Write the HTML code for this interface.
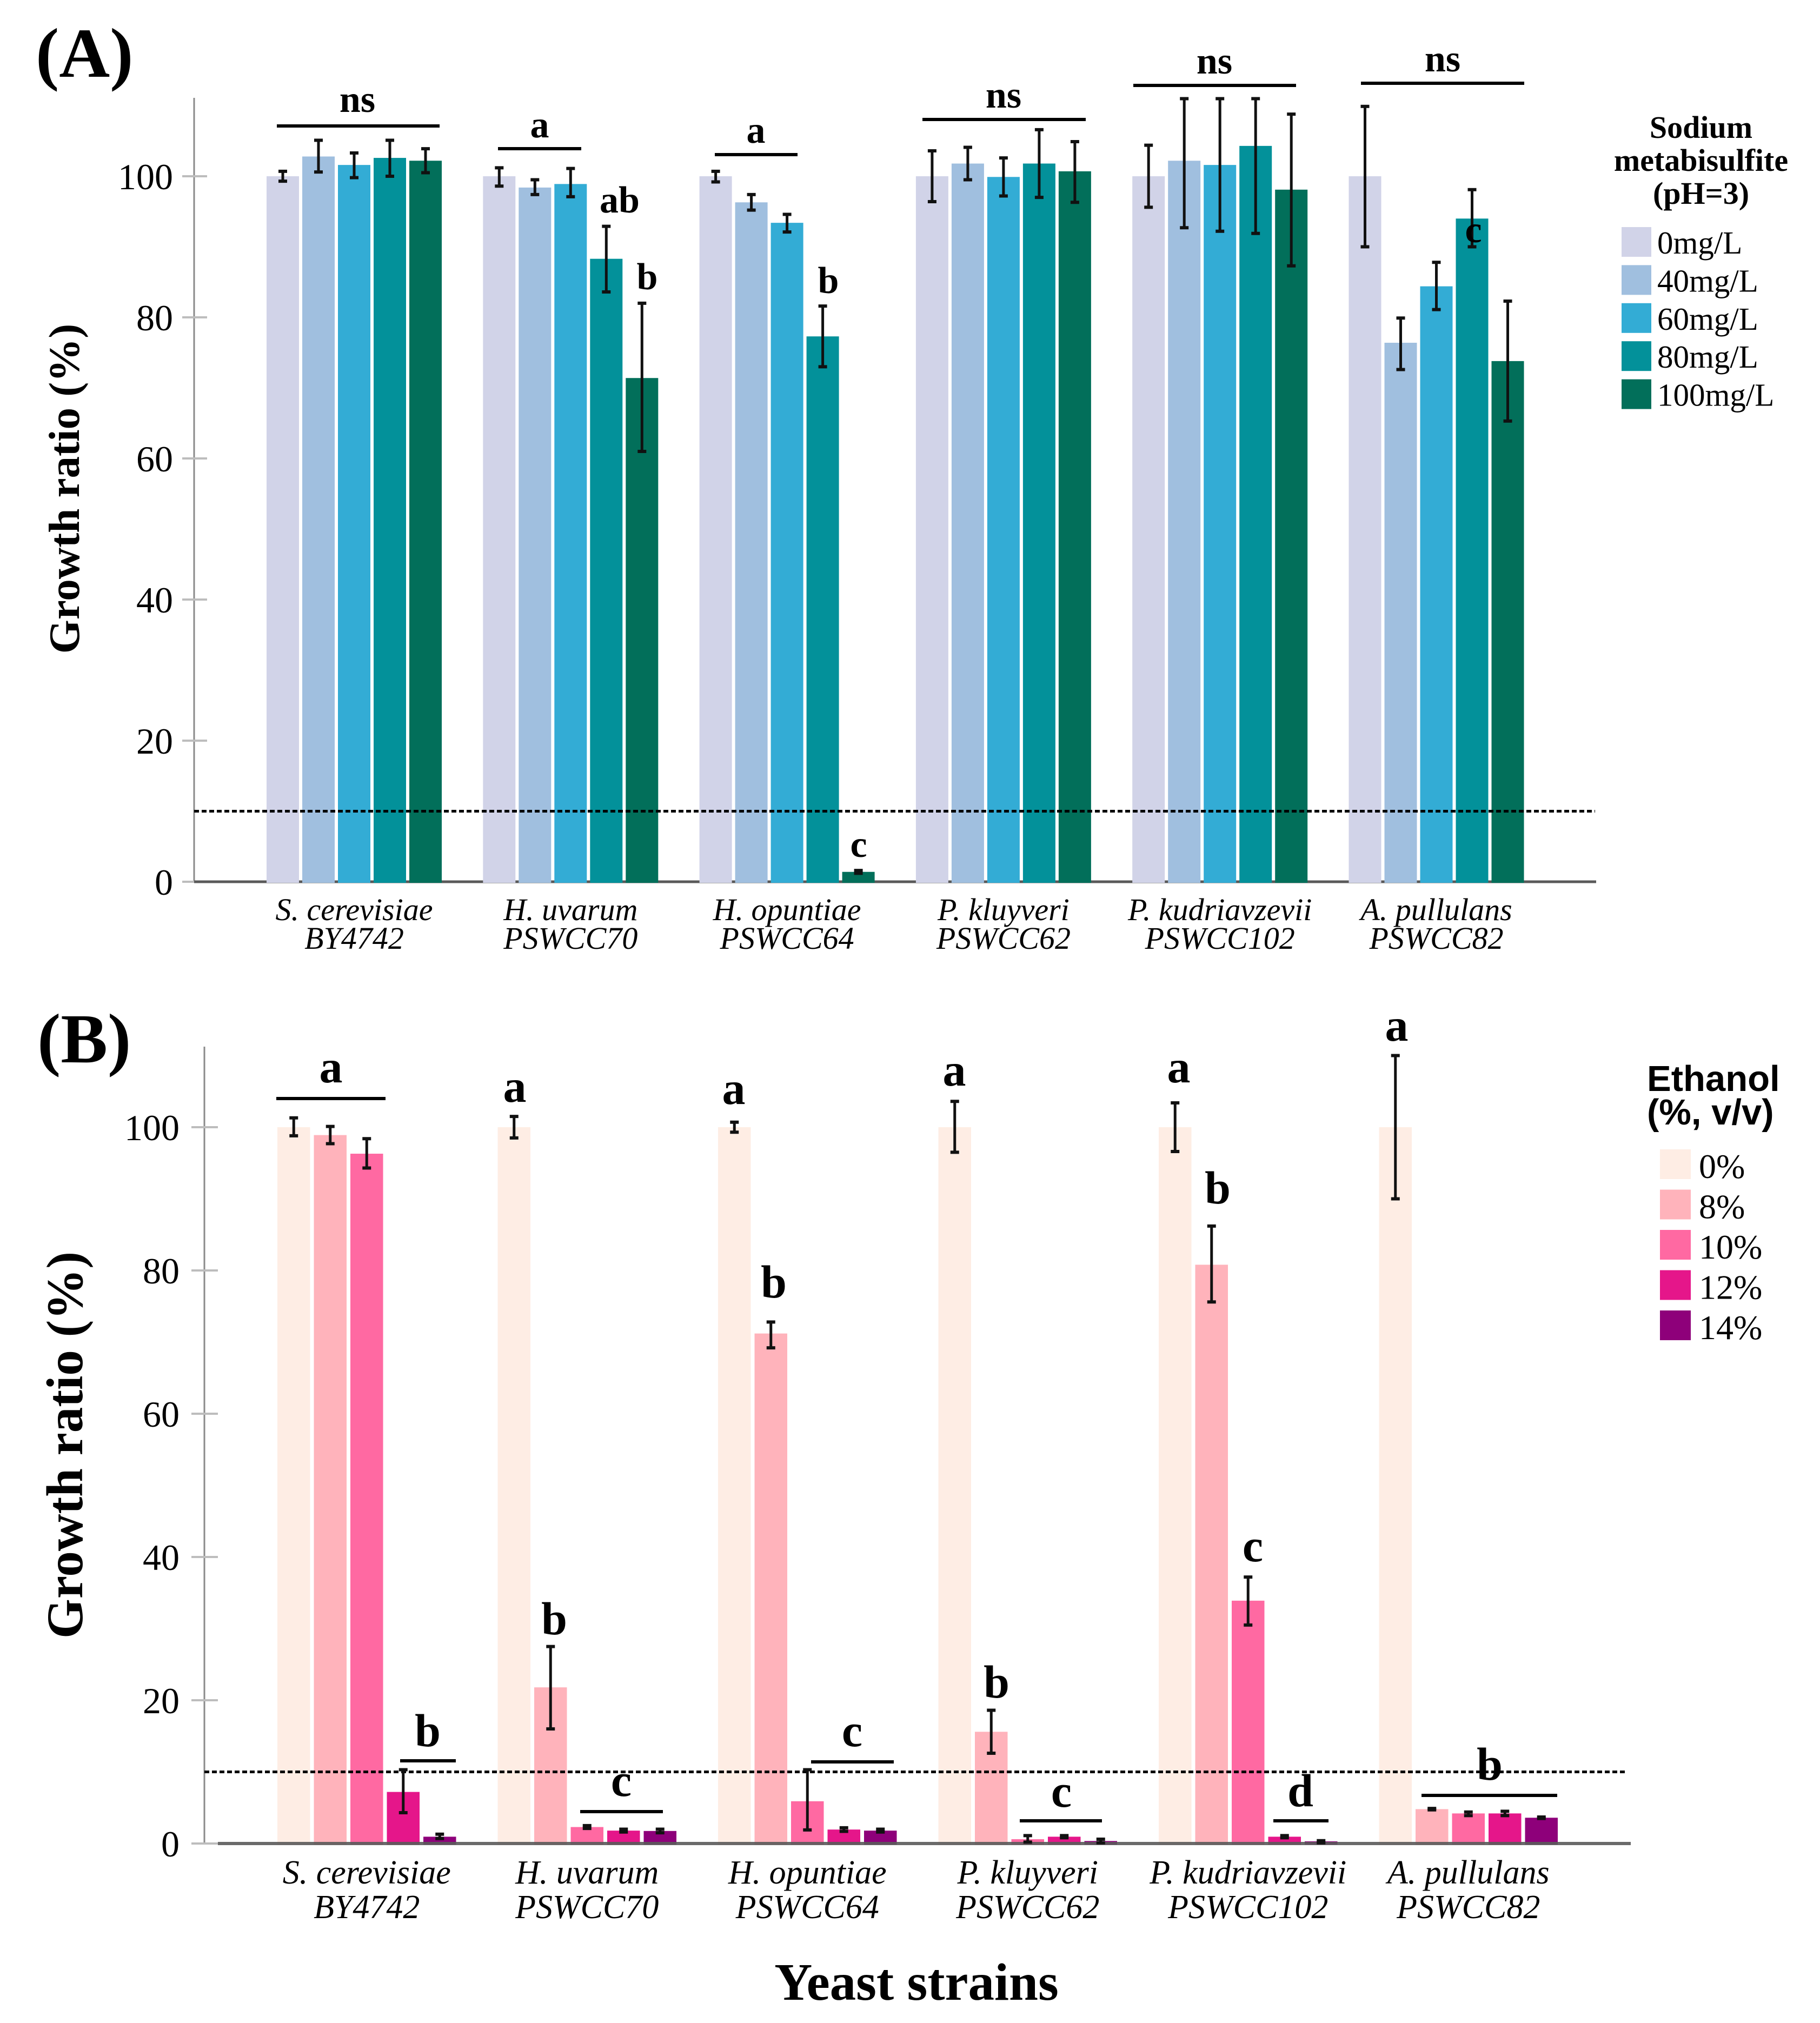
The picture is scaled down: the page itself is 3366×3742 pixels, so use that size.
<!DOCTYPE html>
<html lang="en">
<head>
<meta charset="utf-8">
<title>Yeast growth ratio under sodium metabisulfite and ethanol</title>
<style>
html,body{margin:0;padding:0;background:#fff;}
svg{display:block;}
text{font-family:"Liberation Serif",serif;fill:#000;}
.stat{font-weight:bold;text-anchor:middle;}
.sa{font-size:70px;}
.sb{font-size:86px;}
.panel{font-weight:bold;font-size:130px;}
.ytitle{font-weight:bold;}
.ltitle{font-weight:bold;font-size:58px;text-anchor:middle;}
.etitle{font-family:"Liberation Sans",sans-serif;font-weight:bold;font-size:67px;}
</style>
</head>
<body>
<svg id="chart" xmlns="http://www.w3.org/2000/svg" width="3366" height="3742" viewBox="0 0 3366 3742">
<rect x="0" y="0" width="3366" height="3742" fill="#fff"/>
<g id="panelA"></g>
<g id="panelB"></g>

<text class="panel" x="66" y="142">(A)</text>
<text class="panel" x="69" y="1965">(B)</text>
<text class="ytitle" font-size="81" text-anchor="middle" transform="translate(146 904) rotate(-90)">Growth ratio (%)</text>
<text class="ytitle" font-size="95" text-anchor="middle" transform="translate(152 2673) rotate(-90)">Growth ratio (%)</text>
<text class="ytitle" font-size="97" text-anchor="middle" x="1695" y="3699">Yeast strains</text>

<g>
<rect x="512" y="230" width="301" height="6"/>
<rect x="921" y="272" width="154" height="6"/>
<rect x="1322" y="283" width="153" height="6"/>
<rect x="1706" y="218" width="302" height="6"/>
<rect x="2096" y="155" width="301" height="6"/>
<rect x="2517" y="151" width="302" height="6"/>
<text class="stat sa" x="661" y="207">ns</text>
<text class="stat sa" x="998" y="254">a</text>
<text class="stat sa" x="1146" y="393">ab</text>
<text class="stat sa" x="1197" y="535">b</text>
<text class="stat sa" x="1398" y="264">a</text>
<text class="stat sa" x="1532" y="542">b</text>
<text class="stat sa" x="1588" y="1585">c</text>
<text class="stat sa" x="1856" y="199">ns</text>
<text class="stat sa" x="2246" y="136">ns</text>
<text class="stat sa" x="2668" y="132">ns</text>
<text class="stat sa" x="2725" y="448">c</text>
</g>

<g>
<rect x="511" y="2029" width="202" height="6"/>
<rect x="740" y="3254" width="103" height="6"/>
<rect x="1073" y="3348" width="153" height="6"/>
<rect x="1500" y="3256" width="153" height="6"/>
<rect x="1886" y="3365" width="152" height="6"/>
<rect x="2355" y="3365" width="102" height="6"/>
<rect x="2629" y="3318" width="251" height="6"/>
<text class="stat sb" x="612" y="2002">a</text>
<text class="stat sb" x="791" y="3230">b</text>
<text class="stat sb" x="952" y="2038">a</text>
<text class="stat sb" x="1025" y="3023">b</text>
<text class="stat sb" x="1149" y="3322">c</text>
<text class="stat sb" x="1357" y="2042">a</text>
<text class="stat sb" x="1431" y="2400">b</text>
<text class="stat sb" x="1576" y="3230">c</text>
<text class="stat sb" x="1765" y="2008">a</text>
<text class="stat sb" x="1843" y="3140">b</text>
<text class="stat sb" x="1963" y="3342">c</text>
<text class="stat sb" x="2180" y="2002">a</text>
<text class="stat sb" x="2252" y="2226">b</text>
<text class="stat sb" x="2317" y="2888">c</text>
<text class="stat sb" x="2405" y="3341">d</text>
<text class="stat sb" x="2583" y="1925">a</text>
<text class="stat sb" x="2755" y="3292">b</text>
</g>

<g>
<text class="ltitle" x="3146" y="255">Sodium</text>
<text class="ltitle" x="3146" y="316">metabisulfite</text>
<text class="ltitle" x="3146" y="377">(pH=3)</text>
</g>
<g>
<text class="etitle" x="3046" y="2018">Ethanol</text>
<text class="etitle" x="3046" y="2080">(%, v/v)</text>
</g>
</svg>

<script>
const strainNames = ["S. cerevisiae", "H. uvarum", "H. opuntiae", "P. kluyveri", "P. kudriavzevii", "A. pullulans"];
const strainCodes = ["BY4742", "PSWCC70", "PSWCC64", "PSWCC62", "PSWCC102", "PSWCC82"];
const yTickLabels = [0, 20, 40, 60, 80, 100];
const cutoffValue = [10];

const aDoses = ["0mg/L", "40mg/L", "60mg/L", "80mg/L", "100mg/L"];
const aColors = ["#d1d3e8", "#a0bfdf", "#33acd5", "#03919a", "#026f5a"];
const aMeans = [
  [100, 102.8, 101.6, 102.6, 102.2],
  [100, 98.4, 98.9, 88.3, 71.4],
  [100, 96.3, 93.4, 77.3, 1.4],
  [100, 101.8, 99.9, 101.8, 100.7],
  [100, 102.2, 101.6, 104.3, 98.1],
  [100, 76.4, 84.4, 94, 73.8]
];
const aHigh = [
  [100.7, 105.1, 103.3, 105.1, 103.9],
  [101.2, 99.5, 101.1, 92.9, 82],
  [100.7, 97.4, 94.6, 81.6, 1.6],
  [103.6, 104.1, 102.6, 106.6, 104.9],
  [104.4, 111, 111, 111, 108.8],
  [109.9, 79.9, 87.8, 98.1, 82.3]
];
const aLow = [
  [99.3, 100.6, 99.8, 100, 100.5],
  [98.6, 97.4, 97.1, 83.6, 61],
  [99.2, 95.2, 92.1, 73, 1.2],
  [96.4, 99.5, 97.2, 97, 96.3],
  [95.6, 92.7, 92.2, 91.9, 87.3],
  [90, 72.6, 81.1, 90, 65.3]
];

const bDoses = ["0%", "8%", "10%", "12%", "14%"];
const bColors = ["#feede4", "#ffb3bb", "#ff69a2", "#e5168a", "#8e007a"];
const bMeans = [
  [100, 98.9, 96.3, 7.2, 0.95],
  [100, 21.8, 2.3, 1.8, 1.75],
  [100, 71.2, 5.9, 1.95, 1.8],
  [100, 15.6, 0.6, 0.95, 0.35],
  [100, 80.8, 33.9, 0.95, 0.3],
  [100, 4.8, 4.2, 4.2, 3.6]
];
const bHigh = [
  [101.3, 100.1, 98.4, 10.3, 1.3],
  [101.5, 27.5, 2.5, 2, 2],
  [100.7, 72.8, 10.3, 2.2, 2],
  [103.6, 18.6, 1.1, 1.1, 0.6],
  [103.4, 86.2, 37.2, 1.1, 0.4],
  [110, 4.9, 4.4, 4.5, 3.7]
];
const bLow = [
  [98.8, 97.7, 94.3, 4.3, 0.7],
  [98.5, 16, 2.1, 1.6, 1.5],
  [99.3, 69.2, 1.9, 1.7, 1.6],
  [96.5, 12.6, 0.2, 0.8, 0.1],
  [96.6, 75.6, 30.5, 0.8, 0.1],
  [90, 4.7, 3.9, 3.9, 3.5]
];

const NS = "http://www.w3.org/2000/svg";
function make(parent, tag, attrs, txt) {
  const e = document.createElementNS(NS, tag);
  for (const k in attrs) e.setAttribute(k, attrs[k]);
  if (txt !== undefined) e.textContent = txt;
  parent.appendChild(e);
  return e;
}

function drawPanel(root, key, cfg, means, high, low, doses, colors) {
  const yScale = v => cfg.y0 - cfg.unit * v;
  const xBar = (g, s) => cfg.x0 + cfg.groupStep * g + cfg.barStep * s;
  const xGroup = g => xBar(g, 2) + cfg.barW / 2;

  const axis = make(root, "line", {x1: cfg.axisX, x2: cfg.axisX, y1: cfg.axisTop, y2: cfg.y0 + 2, stroke: "#8a8a8a", "stroke-width": 3});
  
  

  yTickLabels.forEach(t => {
    const tick = make(root, "line", {x1: cfg.tickX1, x2: cfg.tickX2, y1: yScale(t), y2: yScale(t), stroke: "#bdbdbd", "stroke-width": 4});
    
    
    const lab = make(root, "text", {x: cfg.tickLabelX, y: yScale(t) + 24, "font-size": 68, "text-anchor": "end"}, String(t));
    
    
  });

  const baseAttrs = {x1: cfg.baseX1, x2: cfg.baseX2, y1: cfg.y0, y2: cfg.y0, stroke: "#5a5a5a", "stroke-width": cfg.baseW};
  if (!cfg.baseOnTop) {
    const base = make(root, "line", baseAttrs);
    
    
  }

  means.forEach((row, g) => {
    row.forEach((v, s) => {
      const bar = make(root, "rect", {x: xBar(g, s), y: yScale(v), width: cfg.barW, height: cfg.y0 - yScale(v) + 2, fill: colors[s]});
      
      
    });
  });

  if (cfg.baseOnTop) {
    const baseTop = make(root, "line", baseAttrs);
    
    
    baseTop.setAttribute('opacity', '0.9');
  }

  const cut = make(root, "line", {x1: cfg.axisX, x2: cfg.cutX2, y1: yScale(cutoffValue[0]), y2: yScale(cutoffValue[0]), stroke: "#000", "stroke-width": 5, "stroke-dasharray": "9 5"});
  
  

  means.forEach((row, g) => {
    row.forEach((v, s) => {
      const cx = xBar(g, s) + cfg.barW / 2;
      const stem = make(root, "line", {x1: cx, x2: cx, y1: yScale(high[g][s]), y2: yScale(low[g][s]), stroke: "#111", "stroke-width": 5});
      
      
      const capT = make(root, "line", {x1: cx - 8, x2: cx + 8, y1: yScale(high[g][s]), y2: yScale(high[g][s]), stroke: "#111", "stroke-width": 6});
      
      
      const capB = make(root, "line", {x1: cx - 8, x2: cx + 8, y1: yScale(low[g][s]), y2: yScale(low[g][s]), stroke: "#111", "stroke-width": 6});
      
      
    });
  });

  strainNames.forEach((name, g) => {
    const l1 = make(root, "text", {x: xGroup(g), y: cfg.label1Y, "font-size": cfg.labelSize, "font-style": "italic", "text-anchor": "middle"}, name);
    
    
    const l2 = make(root, "text", {x: xGroup(g), y: cfg.label2Y, "font-size": cfg.labelSize, "font-style": "italic", "text-anchor": "middle"}, strainCodes[g]);
    
    
  });

  doses.forEach((d, i) => {
    const sw = make(root, "rect", {x: cfg.swX, y: cfg.swY + cfg.swStep * i, width: cfg.swW, height: cfg.swH, fill: colors[i]});
    
    
    const tx = make(root, "text", {x: cfg.legX, y: cfg.legY + cfg.swStep * i, "font-size": cfg.legSize, "font-family": cfg.legFont}, d);
    
    
  });
}

drawPanel(document.getElementById("panelA"), "panel-a", {
  y0: 1631, unit: 13.05, axisX: 359, axisTop: 181,
  tickX1: 337, tickX2: 383, tickLabelX: 320,
  baseX1: 359, baseX2: 2952, baseW: 5, baseOnTop: false, cutX2: 2950,
  x0: 493, groupStep: 400.3, barStep: 66, barW: 60,
  label1Y: 1702, label2Y: 1755, labelSize: 58,
  swX: 2999, swY: 420, swStep: 70.4, swW: 55, swH: 55,
  legX: 3065, legY: 469, legSize: 59, legFont: '"Liberation Serif", serif'
}, aMeans, aHigh, aLow, aDoses, aColors);

drawPanel(document.getElementById("panelB"), "panel-b", {
  y0: 3410, unit: 13.25, axisX: 378, axisTop: 1936,
  tickX1: 354, tickX2: 403, tickLabelX: 332,
  baseX1: 403, baseX2: 3016, baseW: 6, baseOnTop: true, cutX2: 3010,
  x0: 513, groupStep: 407.5, barStep: 67.5, barW: 60.5,
  label1Y: 3484, label2Y: 3548, labelSize: 62,
  swX: 3070, swY: 2126, swStep: 74.5, swW: 57, swH: 55,
  legX: 3142, legY: 2179, legSize: 64, legFont: '"Liberation Sans", sans-serif'
}, bMeans, bHigh, bLow, bDoses, bColors);
</script>
</body>
</html>
